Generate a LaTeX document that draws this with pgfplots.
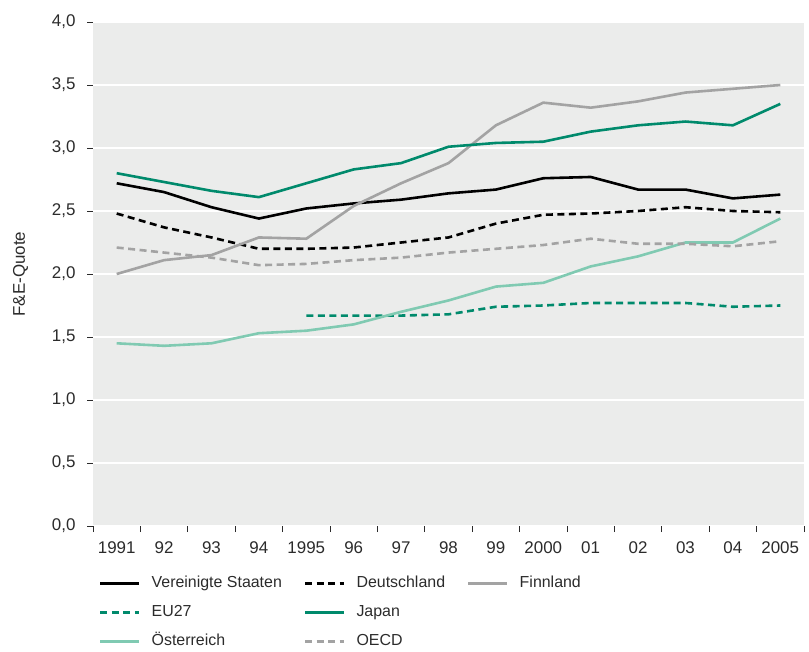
\documentclass[border=0pt]{standalone}
\usepackage{fontspec}
\setmainfont{Liberation Sans}
\usepackage{pgfplots}
\pgfplotsset{compat=1.18}
\definecolor{bgc}{HTML}{EBECEB}
\definecolor{grn}{HTML}{008A6C}
\definecolor{lgrn}{HTML}{80CAB2}
\definecolor{gry}{HTML}{A3A3A3}
\definecolor{txt}{HTML}{2B2B2B}
\begin{document}
\begin{tikzpicture}
\begin{axis}[
  name=ax,
  scale only axis,
  width=711bp, height=504bp,
  xmin=1990.5, xmax=2005.5,
  ymin=0, ymax=4,
  axis background/.style={fill=bgc},
  axis line style={draw=none},
  ytick={0,0.5,...,4},
  ymajorgrids,
  grid style={white, line width=1.3bp},
  xtick={1991,...,2005},
  xticklabels={1991,92,93,94,1995,96,97,98,99,2000,01,02,03,04,2005},
  minor xtick={1990.5,1991.5,...,2005.5},
  major x tick style={draw=none},
  tick style={txt, line width=0.8bp},
  major tick length=6bp, minor tick length=6bp,
  tick pos=left, tick align=outside,
  /pgf/number format/assume math mode=true,
  ticklabel style={font=\fontsize{17}{20}\selectfont, text=txt},
  xticklabel style={yshift=-6bp},
  yticklabel style={xshift=-8bp, /pgf/number format/.cd, fixed, fixed zerofill, precision=1, use comma},
  ylabel={F\&E-Quote},
  ylabel style={at={(axis description cs:-0.102,0.5)}, anchor=center, rotate=0, font=\fontsize{17}{20}\selectfont, text=txt},
  every axis plot/.append style={line width=2.6bp, line join=round},
  legend columns=3,
  legend cell align=left,
  legend style={draw=none, fill=none, at={(axis description cs:0.0085,-0.099)}, anchor=north west,
    inner sep=0pt, outer sep=0pt, font=\fontsize{16}{19}\selectfont, text=txt,
    row sep=14bp,
    nodes={inner sep=0pt, text height=12bp, text depth=3bp},
    /tikz/every even column/.append style={column sep=22bp},
    /tikz/every odd column/.append style={column sep=11bp}},
  legend image code/.code={\draw[#1] (0bp,0bp) -- (39bp,0bp);},
]
\addplot[black] coordinates {(1991,2.72)(1992,2.65)(1993,2.53)(1994,2.44)(1995,2.52)(1996,2.56)(1997,2.59)(1998,2.64)(1999,2.67)(2000,2.76)(2001,2.77)(2002,2.67)(2003,2.67)(2004,2.60)(2005,2.63)};
\addlegendentry{Vereinigte Staaten}
\addplot[black, dash pattern=on 7bp off 4.5bp] coordinates {(1991,2.48)(1992,2.37)(1993,2.29)(1994,2.20)(1995,2.20)(1996,2.21)(1997,2.25)(1998,2.29)(1999,2.40)(2000,2.47)(2001,2.48)(2002,2.50)(2003,2.53)(2004,2.50)(2005,2.49)};
\addlegendentry{Deutschland}
\addplot[gry] coordinates {(1991,2.00)(1992,2.11)(1993,2.15)(1994,2.29)(1995,2.28)(1996,2.54)(1997,2.72)(1998,2.88)(1999,3.18)(2000,3.36)(2001,3.32)(2002,3.37)(2003,3.44)(2004,3.47)(2005,3.50)};
\addlegendentry{Finnland}
\addplot[grn, dash pattern=on 7bp off 4.5bp] coordinates {(1995,1.67)(1996,1.67)(1997,1.67)(1998,1.68)(1999,1.74)(2000,1.75)(2001,1.77)(2002,1.77)(2003,1.77)(2004,1.74)(2005,1.75)};
\addlegendentry{EU27}
\addplot[grn] coordinates {(1991,2.80)(1992,2.73)(1993,2.66)(1994,2.61)(1995,2.72)(1996,2.83)(1997,2.88)(1998,3.01)(1999,3.04)(2000,3.05)(2001,3.13)(2002,3.18)(2003,3.21)(2004,3.18)(2005,3.35)};
\addlegendentry{Japan}
\addlegendimage{empty legend}
\addlegendentry{}
\addplot[lgrn] coordinates {(1991,1.45)(1992,1.43)(1993,1.45)(1994,1.53)(1995,1.55)(1996,1.60)(1997,1.70)(1998,1.79)(1999,1.90)(2000,1.93)(2001,2.06)(2002,2.14)(2003,2.25)(2004,2.25)(2005,2.44)};
\addlegendentry{Österreich}
\addplot[gry, dash pattern=on 7bp off 4.5bp] coordinates {(1991,2.21)(1992,2.17)(1993,2.13)(1994,2.07)(1995,2.08)(1996,2.11)(1997,2.13)(1998,2.17)(1999,2.20)(2000,2.23)(2001,2.28)(2002,2.24)(2003,2.24)(2004,2.22)(2005,2.26)};
\addlegendentry{OECD}
\end{axis}
\pgfresetboundingbox
\path ([xshift=-93bp,yshift=-126bp]ax.south west) rectangle ([xshift=5bp,yshift=22bp]ax.north east);
\end{tikzpicture}
\end{document}
